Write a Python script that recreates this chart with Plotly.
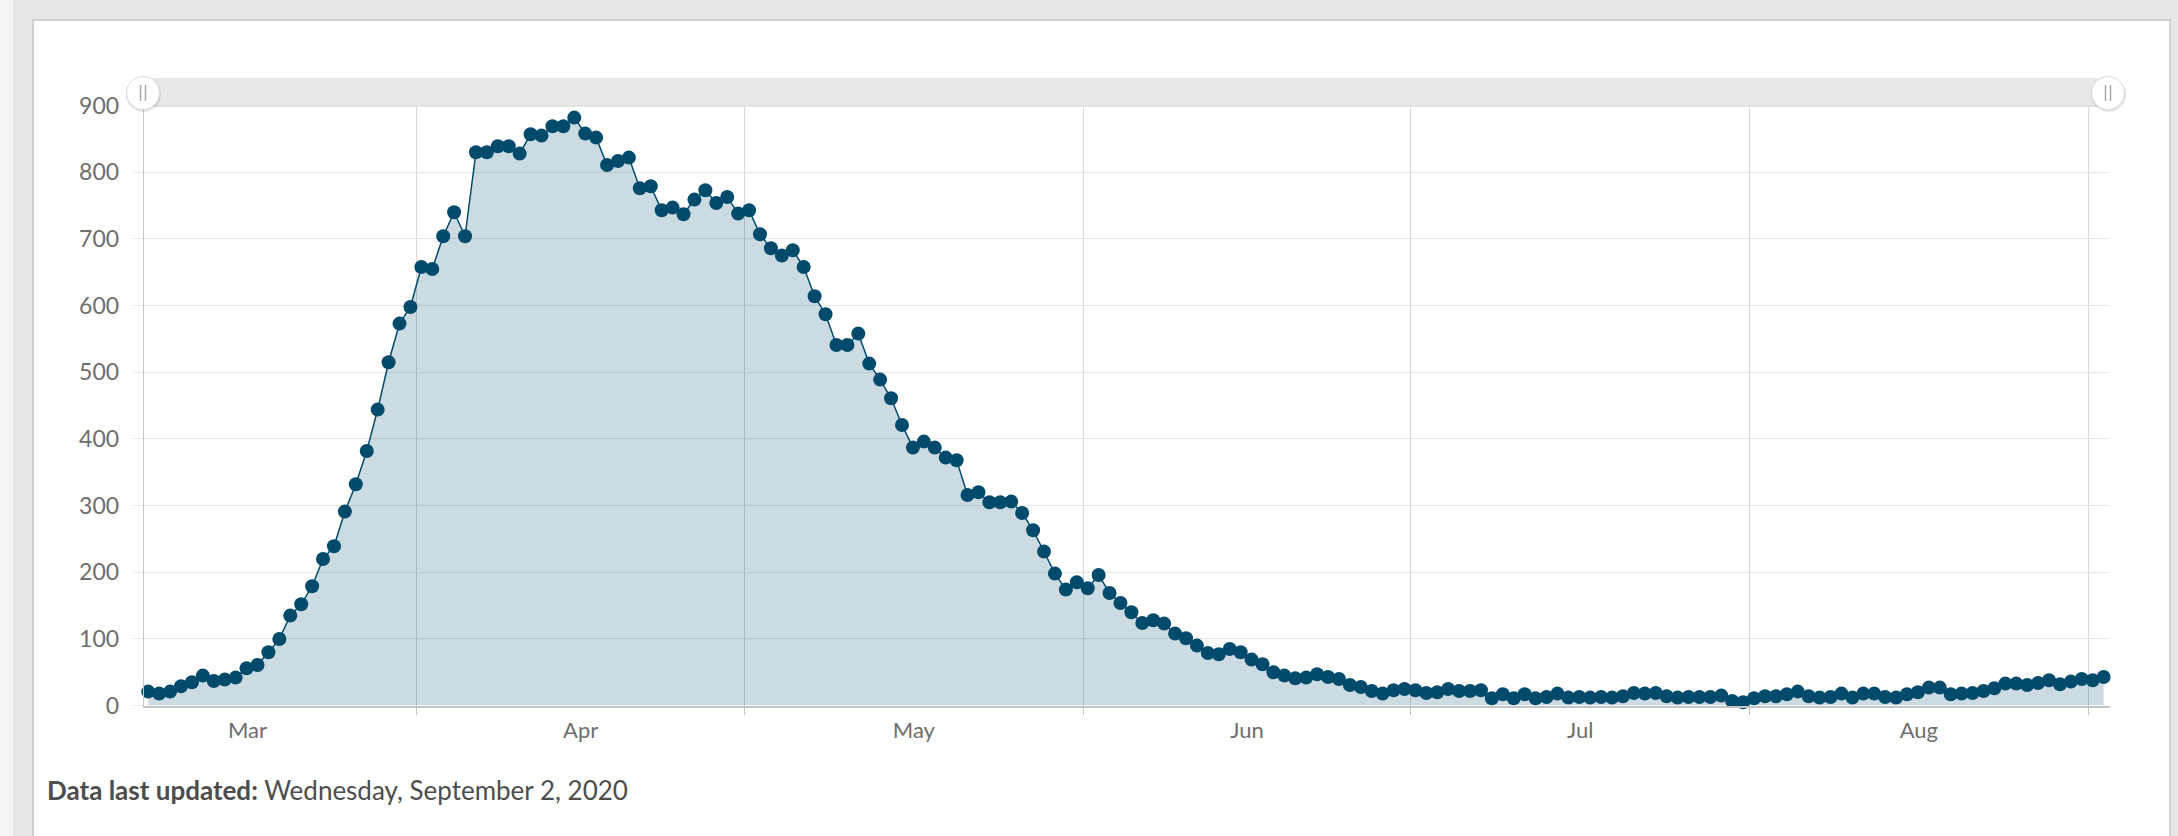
import pandas as pd
import plotly.graph_objects as go

# ---------------- data ----------------
start_date = "2020-03-07"
values = [
    21, 18, 21, 29, 35, 45, 37, 39, 42, 56, 61, 80, 100, 135, 152, 179, 220, 239, 291, 332,
    382, 444, 515, 573, 598, 658, 655, 704, 740, 704, 830, 830, 839, 839, 828, 857, 855, 869,
    869, 882, 858, 852,
    811, 817, 822, 776, 779, 743, 747, 737, 759, 773, 754, 763, 738, 743, 707, 686, 675, 683,
    658, 614, 587, 541, 541, 558, 513, 489, 461, 421, 387, 396, 387, 372, 368, 316, 320, 305, 305,
    306, 289, 263, 231, 198, 174, 185, 176, 196, 169, 154, 140, 124, 128, 123, 108, 101, 90,
    79, 77, 85, 80, 69, 62, 50, 45, 41,
    42, 47, 43, 40, 31, 28, 22,
    18, 23, 25, 23, 19, 20, 25, 22, 22, 23, 11, 17, 11, 17, 11, 13, 18, 12,
    13, 12, 13, 12, 14, 19, 18, 19, 14, 12, 13, 13, 13, 15, 7, 5, 11,
    14, 14, 17, 21, 14, 12, 13, 18, 12, 18, 18, 13, 12, 17, 20, 27, 27, 17, 18, 19, 22, 26,
    33, 33, 31, 34, 38, 32, 36, 40, 38, 43,
]
dates = pd.date_range(start_date, periods=len(values), freq="D")
y_ticks = [0, 100, 200, 300, 400, 500, 600, 700, 800, 900]
footer_bold = "Data last updated:"
footer_text = "Wednesday, September 2, 2020"

# ---------------- layout helpers ----------------
W, H = 2178, 836


def px(x):
    return x / W


def py(y):
    return 1 - y / H


FONT = "Lato, 'Open Sans', sans-serif"
LINE_COLOR = "#004a6c"

# points sit slightly after midnight of their day in the reference
x_vals = dates + pd.Timedelta(hours=10)

fig = go.Figure()
fig.add_trace(
    go.Scatter(
        x=x_vals,
        y=values,
        mode="lines+markers",
        line=dict(color=LINE_COLOR, width=1.5),
        marker=dict(size=14, color=LINE_COLOR),
        fill="tozeroy",
        fillcolor="rgba(0,76,109,0.2)",
        cliponaxis=False,
        hoverinfo="x+y",
    )
)

shapes = []
# outer background stripes and white panel
shapes.append(dict(type="rect", xref="paper", yref="paper", x0=0, x1=px(13), y0=0, y1=1,
                   fillcolor="#f4f4f4", line=dict(width=0), layer="below"))
shapes.append(dict(type="rect", xref="paper", yref="paper", x0=px(33), x1=px(2170),
                   y0=py(H + 10), y1=py(20), fillcolor="#ffffff",
                   line=dict(color="#c6c6c6", width=1.5), layer="below"))
# scrollbar
shapes.append(dict(type="rect", xref="paper", yref="paper", x0=px(143), x1=px(2108),
                   y0=py(106), y1=py(78), fillcolor="#e8e8e8", line=dict(width=0), layer="above"))
shapes.append(dict(type="line", xref="paper", yref="paper", x0=px(143), x1=px(2108),
                   y0=py(106), y1=py(106), line=dict(color="#dcdcdc", width=1.5), layer="above"))
# handles
for cx in (143, 2108):
    r = 16.5
    shapes.append(dict(type="circle", xref="paper", yref="paper",
                       x0=px(cx - r - 0.5), x1=px(cx + r + 1.5), y0=py(93 + r + 2.5), y1=py(93 - r + 0.5),
                       fillcolor="rgba(0,0,0,0.10)", line=dict(width=0), layer="above"))
    shapes.append(dict(type="circle", xref="paper", yref="paper",
                       x0=px(cx - r), x1=px(cx + r), y0=py(93 + r), y1=py(93 - r),
                       fillcolor="#ffffff", line=dict(color="#dadada", width=1), layer="above"))
    for dx in (-2.5, 2.5):
        shapes.append(dict(type="line", xref="paper", yref="paper",
                           x0=px(cx + dx), x1=px(cx + dx), y0=py(101), y1=py(85),
                           line=dict(color="#a8a8a8", width=1.5), layer="above"))

fig.update_layout(
    width=W,
    height=H,
    margin=dict(l=0, r=0, t=0, b=0, pad=0, autoexpand=False),
    paper_bgcolor="#e6e6e6",
    plot_bgcolor="rgba(0,0,0,0)",
    showlegend=False,
    font=dict(family=FONT, color="#6e6e6e"),
    shapes=shapes,
    xaxis=dict(
        type="date",
        domain=[px(143.7), px(2110)],
        range=[dates[0], dates[-1] + pd.Timedelta(days=1)],
        dtick="M1",
        tick0="2020-03-01",
        ticklabelmode="period",
        tickformat="%b",
        showgrid=True,
        gridcolor="#d8d8d8",
        gridwidth=1,
        ticks="outside",
        ticklen=8,
        tickcolor="#c4c4c4",
        showline=True,
        linecolor="#c4c4c4",
        linewidth=1.5,
        zeroline=False,
        automargin=False,
        tickfont=dict(size=22, color="#6e6e6e", family=FONT),
        ticklabelstandoff=-4,
    ),
    yaxis=dict(
        domain=[py(705.6), py(105.6)],
        range=[0, 900],
        tickvals=y_ticks,
        showgrid=True,
        gridcolor="#e6e6e6",
        gridwidth=1,
        ticks="outside",
        ticklen=10,
        tickcolor="#e6e6e6",
        showline=True,
        linecolor="#c8c8c8",
        linewidth=1,
        zeroline=False,
        automargin=False,
        tickfont=dict(size=23, color="#6e6e6e", family=FONT),
        ticklabelstandoff=9,
    ),
    annotations=[
        dict(
            xref="paper", yref="paper",
            x=px(45), y=py(790),
            xanchor="left", yanchor="middle",
            showarrow=False,
            text=f"<b>{footer_bold}</b> {footer_text}",
            font=dict(size=26, color="#4d4d4d", family=FONT),
        )
    ],
)

fig.write_html(
    "out.html",
    config={"displayModeBar": False},
    post_script="document.body.style.margin='0px';document.body.style.overflow='hidden';",
)
